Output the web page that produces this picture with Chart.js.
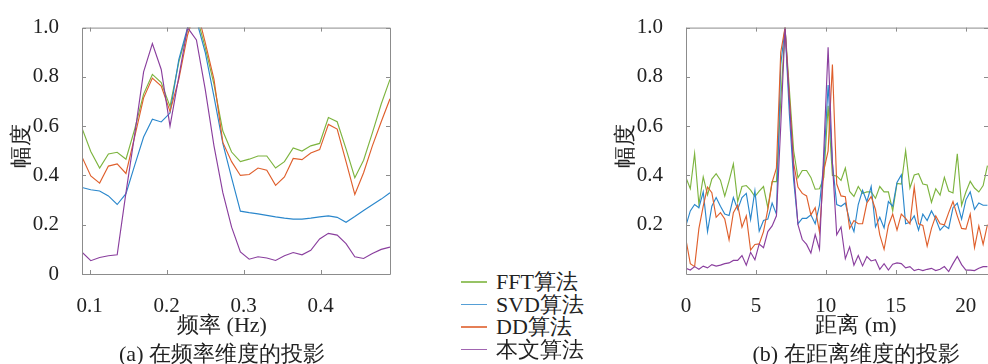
<!DOCTYPE html>
<html>
<head>
<meta charset="utf-8">
<script src="https://cdn.jsdelivr.net/npm/chart.js@4.4.1/dist/chart.umd.min.js"></script>
<style>
  html, body { margin: 0; padding: 0; background: #fff; width: 988px; height: 364px; overflow: hidden; }
  #stage { position: relative; width: 988px; height: 364px; overflow: hidden; }
  #stage canvas { position: absolute; top: 0; }
  .t { position: absolute; font-family: "Liberation Serif"; font-size: 22px;
       line-height: 22px; color: #222; white-space: nowrap; transform: translate(-50%, -50%); }
  .v { transform: translate(-50%, -50%) rotate(-90deg); }
  .legRow { position: absolute; left: 461px; height: 22px; transform: translateY(-50%); display: flex; align-items: center; }
  .legLine { width: 26px; height: 1.2px; margin-right: 9px; opacity: 0.8; }
  .legText { font-family: "Liberation Serif"; font-size: 22px; line-height: 22px; color: #222; white-space: nowrap; }
</style>
</head>
<body>
<div id="stage">
  <canvas id="freqChart" width="400" height="364" style="left:0px"></canvas>
  <canvas id="rangeChart" width="400" height="364" style="left:600px"></canvas>

  <div class="t v" style="left:21px; top:146px">幅度</div>
  <div class="t" style="left:222px; top:325px">频率 (Hz)</div>
  <div class="t" style="left:222px; top:354px">(a) 在频率维度的投影</div>

  <div class="t v" style="left:625px; top:146px">幅度</div>
  <div class="t" style="left:856px; top:325px">距离 (m)</div>
  <div class="t" style="left:856px; top:354px">(b) 在距离维度的投影</div>

  <div id="legend"></div>
</div>

<script>
// ---- series names and colours ----
const seriesNames = ['FFT算法', 'SVD算法', 'DD算法', '本文算法'];
const seriesColors = ['#7db43f', '#2a87cc', '#df5f2c', '#8a3f9e'];

// ---- (a) projection onto the frequency dimension ----
const freqHz = [0.0900, 0.1014, 0.1129, 0.1243, 0.1357, 0.1471, 0.1586, 0.1700, 0.1814, 0.1929,
                0.2043, 0.2157, 0.2271, 0.2386, 0.2500, 0.2614, 0.2729, 0.2843, 0.2957, 0.3071,
                0.3186, 0.3300, 0.3414, 0.3529, 0.3643, 0.3757, 0.3871, 0.3986, 0.4100, 0.4214,
                0.4329, 0.4443, 0.4557, 0.4671, 0.4786, 0.4900];
const fftFreq = [0.592, 0.497, 0.430, 0.487, 0.494, 0.466, 0.590, 0.730, 0.810, 0.777,
                 0.680, 0.860, 0.990, 1.050, 0.920, 0.770, 0.580, 0.495, 0.456, 0.466,
                 0.479, 0.479, 0.430, 0.456, 0.512, 0.499, 0.520, 0.530, 0.635, 0.618,
                 0.508, 0.391, 0.462, 0.573, 0.690, 0.790];
const svdFreq = [0.351, 0.342, 0.337, 0.317, 0.282, 0.326, 0.443, 0.556, 0.628, 0.617,
                 0.653, 0.870, 1.000, 1.030, 0.900, 0.720, 0.530, 0.390, 0.255, 0.249,
                 0.244, 0.238, 0.232, 0.227, 0.223, 0.223, 0.227, 0.232, 0.236, 0.230,
                 0.210, 0.233, 0.258, 0.281, 0.304, 0.330];
const ddFreq  = [0.475, 0.398, 0.369, 0.438, 0.447, 0.408, 0.560, 0.715, 0.795, 0.763,
                 0.660, 0.790, 0.970, 1.080, 0.940, 0.790, 0.534, 0.456, 0.400, 0.404,
                 0.430, 0.421, 0.360, 0.394, 0.469, 0.464, 0.491, 0.505, 0.607, 0.588,
                 0.456, 0.323, 0.411, 0.520, 0.618, 0.711];
const oursFreq = [0.089, 0.054, 0.067, 0.074, 0.078, 0.330, 0.570, 0.820, 0.935, 0.830,
                  0.600, 0.800, 1.000, 0.950, 0.750, 0.520, 0.330, 0.190, 0.090, 0.060,
                  0.070, 0.065, 0.055, 0.074, 0.087, 0.078, 0.096, 0.142, 0.165, 0.158,
                  0.123, 0.070, 0.063, 0.083, 0.100, 0.109];
const freqTicks = [0.1, 0.2, 0.3, 0.4];
const ampTicksA = [0, 0.2, 0.4, 0.6, 0.8, 1.0];

// ---- (b) projection onto the range dimension ----
const rangeM = [0, 0.308, 0.616, 0.924, 1.232, 1.54, 1.848, 2.156, 2.464, 2.772,
                3.08, 3.388, 3.696, 4.004, 4.312, 4.62, 4.928, 5.236, 5.544, 5.852,
                6.16, 6.468, 6.776, 7.084, 7.392, 7.7, 8.008, 8.316, 8.624, 8.932,
                9.24, 9.548, 9.856, 10.164, 10.472, 10.78, 11.088, 11.396, 11.704, 12.012,
                12.32, 12.628, 12.936, 13.244, 13.552, 13.86, 14.168, 14.476, 14.784, 15.092,
                15.4, 15.708, 16.016, 16.324, 16.632, 16.94, 17.248, 17.556, 17.864, 18.172,
                18.48, 18.788, 19.096, 19.404, 19.712, 20.02, 20.328, 20.636, 20.944, 21.252,
                21.56];
const fftRange = [0.391, 0.346, 0.489, 0.282, 0.394, 0.321, 0.385, 0.407, 0.381, 0.316,
                  0.378, 0.447, 0.294, 0.355, 0.359, 0.340, 0.314, 0.336, 0.355, 0.269,
                  0.375, 0.375, 0.700, 1.000, 0.750, 0.500, 0.390, 0.420, 0.420, 0.392,
                  0.344, 0.346, 0.392, 0.683, 0.400, 0.398, 0.380, 0.430, 0.335, 0.315,
                  0.355, 0.327, 0.333, 0.333, 0.307, 0.355, 0.333, 0.333, 0.256, 0.368,
                  0.365, 0.500, 0.349, 0.402, 0.407, 0.365, 0.361, 0.291, 0.346, 0.320,
                  0.392, 0.337, 0.329, 0.488, 0.279, 0.333, 0.376, 0.349, 0.333, 0.359,
                  0.440];
const svdRange = [0.197, 0.256, 0.282, 0.269, 0.333, 0.172, 0.275, 0.310, 0.275, 0.243,
                  0.237, 0.310, 0.262, 0.310, 0.327, 0.221, 0.338, 0.174, 0.217, 0.223,
                  0.288, 0.243, 0.850, 1.000, 0.650, 0.380, 0.204, 0.226, 0.226, 0.240,
                  0.204, 0.280, 0.450, 0.767, 0.450, 0.282, 0.275, 0.288, 0.217, 0.172,
                  0.282, 0.340, 0.294, 0.355, 0.191, 0.230, 0.187, 0.294, 0.275, 0.372,
                  0.402, 0.204, 0.210, 0.236, 0.178, 0.243, 0.217, 0.256, 0.223, 0.178,
                  0.197, 0.185, 0.269, 0.288, 0.223, 0.301, 0.333, 0.262, 0.288, 0.279,
                  0.279];
const ddRange = [0.139, 0.042, 0.030, 0.185, 0.275, 0.353, 0.330, 0.230, 0.249, 0.223,
                 0.139, 0.249, 0.280, 0.190, 0.236, 0.097, 0.120, 0.122, 0.172, 0.262,
                 0.372, 0.430, 0.900, 1.000, 0.720, 0.450, 0.353, 0.327, 0.317, 0.240,
                 0.269, 0.170, 0.420, 0.500, 0.850, 0.365, 0.317, 0.314, 0.185, 0.217,
                 0.204, 0.204, 0.288, 0.314, 0.262, 0.159, 0.100, 0.197, 0.243, 0.178,
                 0.243, 0.226, 0.204, 0.353, 0.204, 0.197, 0.113, 0.185, 0.236, 0.204,
                 0.200, 0.249, 0.294, 0.236, 0.185, 0.182, 0.243, 0.107, 0.195, 0.120,
                 0.200];
const oursRange = [0.023, 0.016, 0.030, 0.019, 0.032, 0.025, 0.038, 0.032, 0.036, 0.042,
                   0.045, 0.055, 0.055, 0.075, 0.036, 0.088, 0.058, 0.122, 0.107, 0.172,
                   0.195, 0.236, 0.600, 1.000, 0.700, 0.420, 0.200, 0.140, 0.120, 0.085,
                   0.160, 0.100, 0.500, 0.920, 0.450, 0.159, 0.191, 0.062, 0.110, 0.036,
                   0.075, 0.033, 0.071, 0.053, 0.058, 0.019, 0.042, 0.016, 0.040, 0.045,
                   0.042, 0.025, 0.030, 0.014, 0.019, 0.014, 0.019, 0.023, 0.014, 0.019,
                   0.030, 0.010, 0.042, 0.071, 0.038, 0.016, 0.016, 0.014, 0.023, 0.030,
                   0.030];
const rangeTicks = [0, 5, 10, 15, 20];
const ampTicksB = [0.2, 0.4, 0.6, 0.8, 1.0];

// ---- shared drawing helpers ----
const tickFont = { family: '"Liberation Serif"', size: 21 };
const tickColor = '#222';
const frameColor = '#8c8c8c';

// Axes box with inward tick marks on all four sides (MATLAB "box on" look)
const boxTicks = {
  id: 'boxTicks',
  afterDatasetsDraw(chart) {
    const { ctx, chartArea: a, scales: { x, y } } = chart;
    const len = 4;
    ctx.save();
    ctx.strokeStyle = frameColor;
    ctx.lineWidth = 1;
    ctx.beginPath();
    ctx.rect(a.left + 0.5, a.top + 0.5, a.right - a.left, a.bottom - a.top);
    x.ticks.forEach(t => {
      const px = Math.round(x.getPixelForValue(t.value)) + 0.5;
      ctx.moveTo(px, a.bottom); ctx.lineTo(px, a.bottom - len);
      ctx.moveTo(px, a.top); ctx.lineTo(px, a.top + len);
    });
    y.ticks.forEach(t => {
      const py = Math.round(y.getPixelForValue(t.value)) + 0.5;
      ctx.moveTo(a.left, py); ctx.lineTo(a.left + len, py);
      ctx.moveTo(a.right, py); ctx.lineTo(a.right - len, py);
    });
    ctx.stroke();
    ctx.restore();
  }
};

function makeDatasets(xs, seriesList) {
  return seriesList.map((vals, i) => ({
    label: seriesNames[i],
    data: xs.map((xv, j) => ({ x: xv, y: vals[j] })),
    borderColor: seriesColors[i],
    borderWidth: 1.15,
    pointRadius: 0,
    tension: 0,
    fill: false,
    clip: 0,
    order: seriesList.length - 1 - i
  }));
}

function makeChart(canvasId, xs, seriesList, xCfg, yCfg, axisWidth, padRight) {
  return new Chart(document.getElementById(canvasId), {
    type: 'line',
    data: { datasets: makeDatasets(xs, seriesList) },
    options: {
      responsive: false,
      animation: false,
      devicePixelRatio: 1,
      layout: { padding: { top: 17, right: padRight, left: 0, bottom: 0 } },
      plugins: { legend: { display: false }, tooltip: { enabled: false } },
      scales: {
        x: {
          type: 'linear', min: xCfg.min, max: xCfg.max,
          afterBuildTicks: s => { s.ticks = xCfg.ticks.map(v => ({ value: v })); },
          afterFit: s => { s.height = 90; },
          grid: { display: false }, border: { display: false },
          ticks: { font: tickFont, color: tickColor, padding: 12, maxRotation: 0,
                   callback: v => xCfg.fmt(v) }
        },
        y: {
          type: 'linear', min: yCfg.min, max: yCfg.max,
          afterBuildTicks: s => { s.ticks = yCfg.ticks.map(v => ({ value: v })); },
          afterFit: s => { s.width = axisWidth; },
          grid: { display: false }, border: { display: false },
          ticks: { font: tickFont, color: tickColor, padding: 15,
                   callback: v => (v === 0 ? '0' : v.toFixed(1)) }
        }
      }
    },
    plugins: [boxTicks]
  });
}

function drawAll() {
  makeChart('freqChart', freqHz, [fftFreq, svdFreq, ddFreq, oursFreq],
    { min: 0.09, max: 0.49, ticks: freqTicks, fmt: v => v.toFixed(1) },
    { min: 0, max: 1, ticks: ampTicksA }, 82, 10);

  makeChart('rangeChart', rangeM, [fftRange, svdRange, ddRange, oursRange],
    { min: 0, max: 21.6, ticks: rangeTicks, fmt: v => String(v) },
    { min: 0, max: 1, ticks: ampTicksB }, 86, 12);
}

// ---- shared legend between the two panels ----
const legendRowsY = [282, 304.5, 327, 349.5];
const legend = document.getElementById('legend');
seriesNames.forEach((name, i) => {
  const row = document.createElement('div');
  row.className = 'legRow';
  row.style.top = legendRowsY[i] + 'px';
  const line = document.createElement('span');
  line.className = 'legLine';
  line.style.background = seriesColors[i];
  const text = document.createElement('span');
  text.className = 'legText';
  text.textContent = name;
  row.appendChild(line);
  row.appendChild(text);
  legend.appendChild(row);
});

// wait for the serif face before drawing canvas text
if (document.fonts && document.fonts.load) {
  document.fonts.load('21px "Liberation Serif"').then(drawAll, drawAll);
} else {
  drawAll();
}
</script>
</body>
</html>
